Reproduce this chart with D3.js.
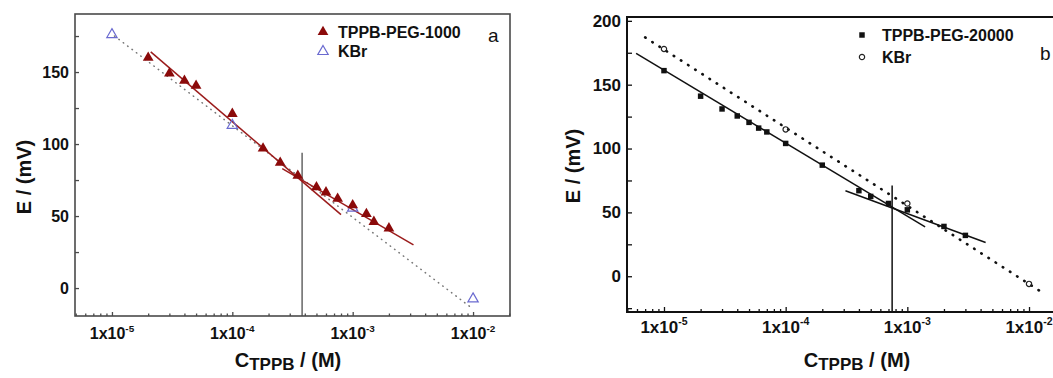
<!DOCTYPE html>
<html>
<head>
<meta charset="utf-8">
<script src="https://cdn.jsdelivr.net/npm/d3@7"></script>
<style>
  body { margin: 0; background: #fff; }
  svg { display: block; font-family: "Liberation Sans", Arial, sans-serif; }
</style>
</head>
<body>
<div id="chart"></div>
<script>
// panel a: TPPB-PEG-1000 vs KBr
const concA = [2e-5, 3e-5, 4e-5, 5e-5, 1e-4, 1.8e-4, 2.5e-4, 3.5e-4, 5e-4, 6e-4, 7.5e-4, 1e-3, 1.3e-3, 1.5e-3, 2e-3];
const peg1000 = [160, 149, 144, 140.5, 121, 97, 87, 78, 70, 66.5, 62, 57.5, 51.5, 46, 41.5];
const kbrConcA = [1e-5, 1e-4, 1e-3, 1e-2];
const kbrA = [176, 113, 55.5, -7.5];
const fitA = [
    [[2.1e-5, 164], [8e-4, 51]],
    [[2.6e-4, 83], [3.2e-3, 30]]
];
const dotA = [[1.05e-5, 175], [9.8e-3, -14]];
const breakA = [3.8e-4, 94];

// panel b: TPPB-PEG-20000 vs KBr
const concB = [1e-5, 2e-5, 3e-5, 4e-5, 5e-5, 6e-5, 7e-5, 1e-4, 2e-4, 4e-4, 5e-4, 7e-4, 1e-3, 2e-3, 3e-3];
const peg20000 = [161, 141, 131, 125.5, 120.5, 116, 113, 104, 87, 67, 62.5, 57, 52, 39, 32];
const kbrConcB = [1e-5, 1e-4, 1e-3, 1e-2];
const kbrB = [178, 115, 57, -6];
const fitB = [
    [[5.9e-6, 174.6], [1.4e-3, 38.7]],
    [[3.1e-4, 67], [4.4e-3, 26.4]]
];
const dotB = [[7e-6, 187], [1.3e-2, -13]];
const breakB = [7.5e-4, 71];

const xMajor = [1e-5, 1e-4, 1e-3, 1e-2];
const xExp = ["-5", "-4", "-3", "-2"];
const yMajorA = [0, 50, 100, 150];
const yMajorB = [0, 50, 100, 150, 200];

const W = 1053, H = 378;
const svg = d3.select("#chart").append("svg")
    .attr("width", W)
    .attr("height", H);

function minorLog(domain) {
    const out = [];
    for (let e = -6; e <= -1; e++) {
        for (let m = 2; m <= 9; m++) {
            const v = m * Math.pow(10, e);
            if (v > domain[0] && v < domain[1]) out.push(v);
        }
    }
    return out;
}

function drawPanel(cfg) {
    const g = svg.append("g");
    const x = d3.scaleLog().domain(cfg.xDomain).range([cfg.left, cfg.right]);
    const y = d3.scaleLinear().domain(cfg.yDomain).range([cfg.bottom, cfg.top]);

    const clipId = "clip-" + cfg.name;
    g.append("clipPath").attr("id", clipId)
        .append("rect")
        .attr("x", cfg.left).attr("y", cfg.top)
        .attr("width", cfg.right - cfg.left)
        .attr("height", cfg.bottom - cfg.top);

    // ticks (inward)
    const tickStyle = sel => {
        sel.select(".domain").remove();
        sel.selectAll("line").attr("stroke", cfg.axisColor).attr("stroke-width", 1.3);
        sel.selectAll("text").remove();
    };
    g.append("g").attr("transform", `translate(0,${cfg.bottom})`)
        .call(d3.axisBottom(x).tickValues(xMajor).tickSizeInner(-cfg.major).tickSizeOuter(0))
        .call(tickStyle);
    g.append("g").attr("transform", `translate(0,${cfg.bottom})`)
        .call(d3.axisBottom(x).tickValues(minorLog(cfg.xDomain)).tickSizeInner(-cfg.minor).tickSizeOuter(0))
        .call(tickStyle);
    g.append("g").attr("transform", `translate(${cfg.left},0)`)
        .call(d3.axisLeft(y).tickValues(cfg.yMajor).tickSizeInner(-cfg.major).tickSizeOuter(0))
        .call(tickStyle);
    const yMinor = d3.range(-25, 201, 50).filter(v => v > cfg.yDomain[0] && v < cfg.yDomain[1]);
    g.append("g").attr("transform", `translate(${cfg.left},0)`)
        .call(d3.axisLeft(y).tickValues(yMinor).tickSizeInner(-cfg.major).tickSizeOuter(0))
        .call(tickStyle);

    // tick labels
    const xl = g.selectAll("text.xl").data(xMajor).join("text")
        .attr("class", "xl")
        .attr("x", d => x(d))
        .attr("y", cfg.bottom + cfg.xLabelGap)
        .attr("text-anchor", "middle")
        .attr("font-size", cfg.tickFont)
        .attr("font-weight", "bold")
        .attr("fill", "#111");
    xl.append("tspan").text("1x10");
    xl.append("tspan").text((d, i) => xExp[i])
        .attr("font-size", cfg.tickFont * 0.62)
        .attr("dy", -cfg.tickFont * 0.45);

    g.selectAll("text.yl").data(cfg.yMajor).join("text")
        .attr("class", "yl")
        .attr("x", cfg.left - 6)
        .attr("y", d => y(d))
        .attr("dy", "0.35em")
        .attr("text-anchor", "end")
        .attr("font-size", cfg.tickFont)
        .attr("font-weight", "bold")
        .attr("fill", "#111")
        .text(d => d);

    // axis titles
    g.append("text")
        .attr("transform", `translate(${cfg.yTitleX},${cfg.yTitleY}) rotate(-90)`)
        .attr("text-anchor", "middle")
        .attr("font-size", 20)
        .attr("font-weight", "bold")
        .attr("fill", "#111")
        .text("E / (mV)");
    const xt = g.append("text")
        .attr("x", cfg.xTitleX)
        .attr("y", 367)
        .attr("text-anchor", "middle")
        .attr("font-size", 20)
        .attr("font-weight", "bold")
        .attr("fill", "#111");
    xt.append("tspan").text("C");
    xt.append("tspan").text("TPPB").attr("font-size", 17).attr("dy", 3);
    xt.append("tspan").text(" / (M)").attr("dy", -3);

    const plot = g.append("g").attr("clip-path", `url(#${clipId})`);
    const line = d3.line().x(d => x(d[0])).y(d => y(d[1]));

    // KBr dotted fit
    plot.append("path")
        .attr("d", line(cfg.dot))
        .attr("fill", "none")
        .attr("stroke", cfg.dotColor)
        .attr("stroke-width", cfg.dotWidth)
        .attr("stroke-linecap", "round")
        .attr("stroke-dasharray", cfg.dotDash);

    // break line
    plot.append("line")
        .attr("x1", x(cfg.brk[0])).attr("x2", x(cfg.brk[0]))
        .attr("y1", y(cfg.brk[1])).attr("y2", cfg.bottom)
        .attr("stroke", cfg.breakColor)
        .attr("stroke-width", 1.5);

    // two linear fits
    plot.selectAll("path.fit").data(cfg.fits).join("path")
        .attr("class", "fit")
        .attr("d", d => line(d))
        .attr("fill", "none")
        .attr("stroke", cfg.fitColor)
        .attr("stroke-width", 1.5);

    // KBr points
    const kbrPts = cfg.kbrX.map((v, i) => [v, cfg.kbrY[i]]);
    plot.selectAll("path.kbr").data(kbrPts).join("path")
        .attr("class", "kbr")
        .attr("transform", d => `translate(${x(d[0])},${y(d[1])})`)
        .attr("d", d3.symbol(cfg.kbrSymbol, cfg.kbrSize)())
        .attr("fill", "none")
        .attr("stroke", cfg.kbrColor)
        .attr("stroke-width", 1.2);

    // TPPB-PEG points
    const pegPts = cfg.pegX.map((v, i) => [v, cfg.pegY[i]]);
    plot.selectAll("path.peg").data(pegPts).join("path")
        .attr("class", "peg")
        .attr("transform", d => `translate(${x(d[0])},${y(d[1])})`)
        .attr("d", d3.symbol(cfg.pegSymbol, cfg.pegSize)())
        .attr("fill", cfg.pegColor);

    // frame
    g.append("rect")
        .attr("x", cfg.left).attr("y", cfg.top)
        .attr("width", cfg.right - cfg.left)
        .attr("height", cfg.bottom - cfg.top)
        .attr("fill", "none")
        .attr("stroke", cfg.axisColor)
        .attr("stroke-width", cfg.frameWidth);

    // legend
    const lg = g.append("g");
    lg.append("path")
        .attr("transform", `translate(${cfg.legX},${cfg.legY})`)
        .attr("d", d3.symbol(cfg.pegSymbol, cfg.pegSize)())
        .attr("fill", cfg.pegColor);
    lg.append("path")
        .attr("transform", `translate(${cfg.legX},${cfg.legY + cfg.legStep})`)
        .attr("d", d3.symbol(cfg.kbrSymbol, cfg.kbrSize)())
        .attr("fill", "none")
        .attr("stroke", cfg.kbrColor)
        .attr("stroke-width", 1.2);
    [cfg.pegName, "KBr"].forEach((t, i) => {
        lg.append("text")
            .attr("x", cfg.legX + cfg.legTextGap)
            .attr("y", cfg.legY + i * cfg.legStep)
            .attr("dy", "0.36em")
            .attr("font-size", 16)
            .attr("font-weight", "bold")
            .attr("fill", "#111")
            .text(t);
    });
    g.append("text")
        .attr("x", cfg.tagX).attr("y", cfg.tagY)
        .attr("font-size", 19)
        .attr("fill", "#111")
        .text(cfg.tag);
}

drawPanel({
    name: "a",
    left: 75, right: 510, top: 14, bottom: 316,
    xDomain: [Math.pow(10, -5.307), Math.pow(10, -1.693)],
    yDomain: [-19.4, 190.3],
    yMajor: yMajorA,
    major: 4, minor: 2.5,
    axisColor: "#4a4a4a", frameWidth: 1.6,
    tickFont: 16, xLabelGap: 23,
    yTitleX: 31, yTitleY: 177, xTitleX: 288,
    pegX: concA, pegY: peg1000, pegName: "TPPB-PEG-1000",
    pegSymbol: d3.symbolTriangle, pegSize: 50, pegColor: "#8b0a0a",
    kbrX: kbrConcA, kbrY: kbrA,
    kbrSymbol: d3.symbolTriangle, kbrSize: 46, kbrColor: "#6a6ad0",
    fits: fitA, fitColor: "#9b1c1c",
    dot: dotA, dotColor: "#777", dotWidth: 1.5, dotDash: "0.5 5",
    brk: breakA, breakColor: "#666",
    legX: 323, legY: 32, legStep: 19.5, legTextGap: 15,
    tag: "a", tagX: 488, tagY: 42
});

drawPanel({
    name: "b",
    left: 627, right: 1066, top: 17, bottom: 312,
    xDomain: [Math.pow(10, -5.304), Math.pow(10, -1.696)],
    yDomain: [-28, 203],
    yMajor: yMajorB,
    major: 5, minor: 3,
    axisColor: "#111", frameWidth: 2,
    tickFont: 17, xLabelGap: 21,
    yTitleX: 580, yTitleY: 166, xTitleX: 857,
    pegX: concB, pegY: peg20000, pegName: "TPPB-PEG-20000",
    pegSymbol: d3.symbolSquare, pegSize: 30, pegColor: "#111",
    kbrX: kbrConcB, kbrY: kbrB,
    kbrSymbol: d3.symbolCircle, kbrSize: 22, kbrColor: "#222",
    fits: fitB, fitColor: "#111",
    dot: dotB, dotColor: "#111", dotWidth: 2.6, dotDash: "0.5 8",
    brk: breakB, breakColor: "#111",
    legX: 862, legY: 35, legStep: 22, legTextGap: 20,
    tag: "b", tagX: 1040, tagY: 60
});
</script>
</body>
</html>
